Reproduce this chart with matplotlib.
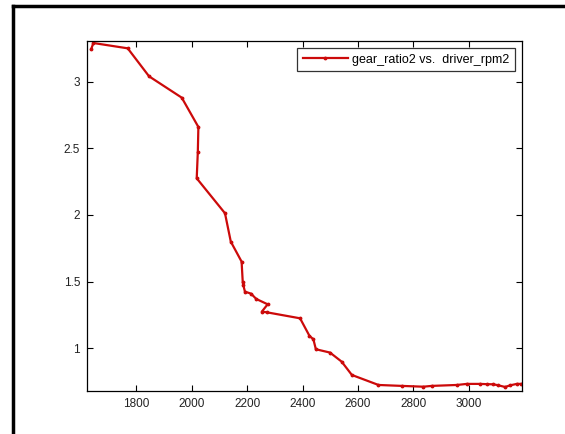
import matplotlib
matplotlib.use("Agg")
import matplotlib.pyplot as plt
from matplotlib.lines import Line2D

driver_rpm2 = [1637, 1645, 1769, 1846, 1964, 2024, 2022, 2018, 2120, 2141, 2180, 2184,
               2186, 2192, 2214, 2233, 2274, 2253, 2271, 2391, 2425, 2439, 2448, 2499,
               2541, 2578, 2674, 2758, 2836, 2866, 2957, 2993, 3041, 3065, 3089, 3107,
               3131, 3149, 3173, 3188]
gear_ratio2 = [3.243, 3.29, 3.25, 3.04, 2.88, 2.66, 2.475, 2.275, 2.013, 1.80, 1.65, 1.50,
               1.475, 1.425, 1.41, 1.37, 1.33, 1.275, 1.27, 1.225, 1.093, 1.068, 0.993, 0.968,
               0.90, 0.80, 0.725, 0.718, 0.712, 0.718, 0.725, 0.733, 0.733, 0.731, 0.73, 0.722,
               0.71, 0.722, 0.733, 0.733]
xticks = [1800, 2000, 2200, 2400, 2600, 2800, 3000]
yticks = [1, 1.5, 2, 2.5, 3]
ytick_labels = ["1", "1.5", "2", "2.5", "3"]

plt.rcParams['font.family'] = ['Liberation Sans', 'DejaVu Sans']

fig = plt.figure(figsize=(5.65, 4.34), dpi=100)
fig.patch.set_facecolor("white")
ax = fig.add_axes([87/565, 1 - 390.7/434, (522 - 87)/565, (390.7 - 41)/434])

ax.plot(driver_rpm2, gear_ratio2, color="#cc0a0a", lw=1.6, marker=".", markersize=3.5,
        label="gear_ratio2 vs.  driver_rpm2")

ax.set_xlim(1622, 3192)
ax.set_ylim(0.682, 3.305)
ax.set_xticks(xticks)
ax.set_xticklabels([str(t) for t in xticks])
ax.set_yticks(yticks)
ax.set_yticklabels(ytick_labels)
ax.tick_params(direction="in", length=4, width=0.8, top=True, right=True,
               labelsize=8.5, colors="black", labelcolor="#222222", pad=5)
for s in ax.spines.values():
    s.set_linewidth(0.9)
    s.set_color("black")

leg = ax.legend(loc="upper right", fontsize=9, frameon=True, fancybox=False,
                borderpad=0.45, handlelength=3.6, handletextpad=0.35,
                borderaxespad=0.55)
leg.get_frame().set_edgecolor("black")
leg.get_frame().set_linewidth(0.9)

# outer window frame (left and top)
fig.add_artist(Line2D([13/565, 13/565], [0, 1 - 6/434], transform=fig.transFigure,
                      color="black", lw=2.5))
fig.add_artist(Line2D([13/565, 1], [1 - 6/434, 1 - 6/434], transform=fig.transFigure,
                      color="black", lw=2.5))

fig.savefig("out.png", dpi=100)
